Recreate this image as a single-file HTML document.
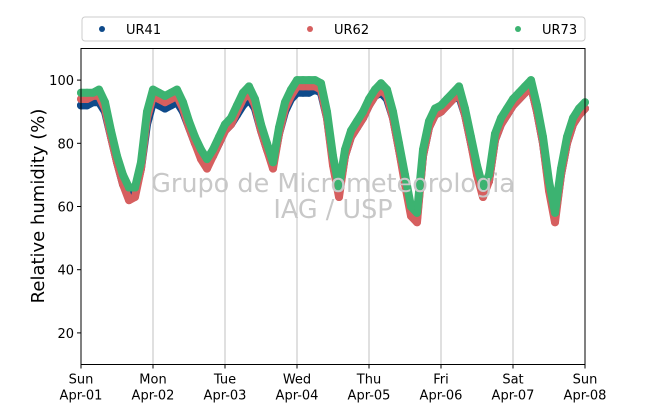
<!DOCTYPE html>
<html><head><meta charset="utf-8">
<style>
body{margin:0;background:#fff;font-family:"Liberation Sans","DejaVu Sans",sans-serif;}
svg text{font-family:"DejaVu Sans","Liberation Sans",sans-serif;}
</style></head>
<body>
<svg id="chart" width="650" height="409" xmlns="http://www.w3.org/2000/svg">
<rect x="0" y="0" width="650" height="409" fill="#fff"/>
<g id="grid"></g>
<g id="series"></g>
<text x="333" y="192" font-size="25.5" fill="#c8c8c8" text-anchor="middle">Grupo de Micrometeorologia</text>
<text x="333" y="218" font-size="25.5" fill="#c8c8c8" text-anchor="middle">IAG / USP</text>
<rect x="81" y="48.5" width="504" height="316" fill="none" stroke="#000" stroke-width="1"/>
<g id="axes"></g>
<text transform="translate(44,206) rotate(-90)" font-size="18" text-anchor="middle" fill="#000">Relative humidity (%)</text>
<g>
<rect x="82" y="17" width="503" height="24" rx="3" fill="#fff" stroke="#ccc"/>
<g><circle cx="102" cy="29" r="3" fill="#0e4a8a"/><text x="126" y="34" font-size="13">UR41</text></g>
<g><circle cx="310" cy="29" r="3" fill="#d65f5f"/><text x="334" y="34" font-size="13">UR62</text></g>
<g><circle cx="518" cy="29" r="3" fill="#3cb371"/><text x="542" y="34" font-size="13">UR73</text></g>
</g>
</svg>
<script>
// 2-hourly samples, Apr-01 00h .. Apr-08 00h
const days=["Sun\nApr-01","Mon\nApr-02","Tue\nApr-03","Wed\nApr-04","Thu\nApr-05","Fri\nApr-06","Sat\nApr-07","Sun\nApr-08"];
const yTicks=[20,40,60,80,100];
const ur73=[96,96,96,97,93,84,76,70,66,66,74,90,
 97,96,95,96,97,93,87,82,78,75,78,82,
 86,88,92,96,98,94,86,80,74,85,93,97,
 100,100,100,100,99,90,76,66,78,84,87,90,
 94,97,99,97,90,80,70,60,58,78,87,91,
 92,94,96,98,91,82,73,66,70,83,88,91,
 94,96,98,100,92,82,68,58,72,82,88,91,93];
const ur62=[94,94,95,95,91,82,74,67,62,63,72,88,
 95,94,93,94,95,91,85,80,75,72,76,80,
 84,86,90,94,96,92,84,78,72,83,91,95,
 98,98,98,98,97,88,73,63,76,82,85,88,
 92,95,97,95,88,78,67,57,55,76,85,89,
 90,92,94,96,89,80,70,63,68,81,86,89,
 92,94,96,98,90,80,65,55,70,80,86,89,91];
const ur41=[92,92,93,93,90,82,74,67,63,64,72,86,
 93,92,91,92,93,90,85,80,76,73,76,80,
 84,86,89,92,94,91,84,78,73,83,90,94,
 96,96,96,97,96,88,74,64,76,82,85,88,
 92,95,96,94,88,78,68,58,56,76,85,89,
 90,92,94,95,89,80,71,64,68,81,86,89,
 92,94,96,98,90,80,66,56,70,80,86,89,91];
const NS="http://www.w3.org/2000/svg";
const x0=81,x1=585,yTop=48.5,yBot=364.5,yMin=10,yMax=110;
function xs(i){return x0+(x1-x0)*i/(ur73.length-1);}
function xd(d){return x0+(x1-x0)*d/7;}
function ys(v){return yBot-(v-yMin)/(yMax-yMin)*(yBot-yTop);}
const grid=document.getElementById('grid'),axes=document.getElementById('axes'),ser=document.getElementById('series');
days.forEach((lab,d)=>{
 const x=xd(d);
 if(d>0&&d<7){const l=document.createElementNS(NS,'line');
 l.setAttribute('x1',x);l.setAttribute('x2',x);l.setAttribute('y1',yTop);l.setAttribute('y2',yBot);
 l.setAttribute('stroke','#c0c0c0');l.setAttribute('stroke-width','1');
 
 
 grid.appendChild(l);}
 const t=document.createElementNS(NS,'line');
 t.setAttribute('x1',x);t.setAttribute('x2',x);t.setAttribute('y1',yBot);t.setAttribute('y2',yBot+4);t.setAttribute('stroke','#000');
 
 
 axes.appendChild(t);
 const parts=lab.split('\n');
 parts.forEach((p,k)=>{const tx=document.createElementNS(NS,'text');
 tx.setAttribute('x',x);tx.setAttribute('y',yBot+19+k*16);tx.setAttribute('font-size','13');tx.setAttribute('text-anchor','middle');
 tx.textContent=p;
 
 
 axes.appendChild(tx);});
});
yTicks.forEach(v=>{
 const y=ys(v);
 const t=document.createElementNS(NS,'line');
 t.setAttribute('x1',x0-4);t.setAttribute('x2',x0);t.setAttribute('y1',y);t.setAttribute('y2',y);t.setAttribute('stroke','#000');
 
 
 axes.appendChild(t);
 const tx=document.createElementNS(NS,'text');
 tx.setAttribute('x',x0-7);tx.setAttribute('y',y+5);tx.setAttribute('font-size','13');tx.setAttribute('text-anchor','end');
 tx.textContent=v;
 
 
 axes.appendChild(tx);
});
function draw(arr,col,name){
 const g=document.createElementNS(NS,'g');
 
 
 const p=document.createElementNS(NS,'polyline');
 p.setAttribute('points',arr.map((v,i)=>xs(i)+','+ys(v)).join(' '));
 p.setAttribute('fill','none');p.setAttribute('stroke',col);p.setAttribute('stroke-width','8');
 p.setAttribute('stroke-linejoin','round');p.setAttribute('stroke-linecap','round');
 
 
 g.appendChild(p);
 arr.forEach((v,i)=>{const c=document.createElementNS(NS,'circle');
 c.setAttribute('cx',xs(i));c.setAttribute('cy',ys(v));c.setAttribute('r','4');c.setAttribute('fill',col);
 
 
 g.appendChild(c);});
 ser.appendChild(g);
}
draw(ur41,'#0e4a8a','series-ur41');
draw(ur62,'#d65f5f','series-ur62');
draw(ur73,'#3cb371','series-ur73');
</script>
</body></html>
